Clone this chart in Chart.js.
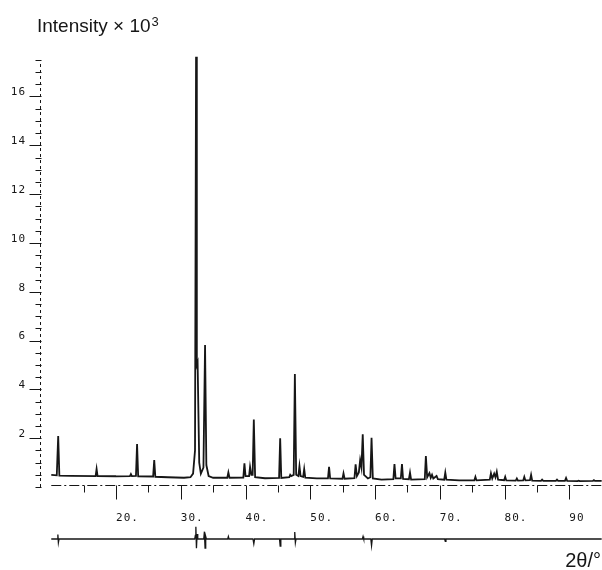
<!DOCTYPE html>
<html>
<head>
<meta charset="utf-8">
<script src="https://cdn.jsdelivr.net/npm/chart.js@4/dist/chart.umd.min.js"></script>
<style>
    body { margin: 0; background: #fff; }
    canvas { display: block; }
</style>
</head>
<body>
<canvas id="xrd-chart" width="602" height="570"></canvas>
<script>
// DADOS - perfil observado (2theta em graus, intensidade x 10^3)
const obsTheta = [
    10.0, 10.85, 11.07, 11.25, 13.0, 16.85, 17.0, 17.15, 20.0,
    22.15, 22.3, 22.45, 23.08, 23.25, 23.42, 25.73, 25.9, 26.07, 28.0, 30.5,
    31.5, 31.9, 32.2, 32.36, 32.48, 32.6, 32.85, 33.1, 33.5, 33.75, 33.95, 34.3, 35.0,
    37.18, 37.35, 37.52, 39.66, 39.83, 40.0, 40.55, 40.7, 40.9, 41.1, 41.28, 41.48, 43.0,
    45.18, 45.35, 45.52, 46.75, 46.9, 47.05, 47.44, 47.62, 47.82, 48.16, 48.33, 48.5, 48.9, 49.06, 49.23, 51.0,
    52.73, 52.9, 53.07, 54.97, 55.13, 55.3, 56.82, 57.0, 57.2, 57.5, 57.7, 57.9, 58.1, 58.3, 58.9, 59.28, 59.46, 59.66, 61.0,
    62.83, 63.0, 63.18, 63.98, 64.16, 64.33, 65.23, 65.4, 65.57, 67.68, 67.85, 68.05, 68.4, 68.6, 68.8, 69.0, 69.5, 69.7, 70.68, 70.85, 71.02, 73.0,
    75.33, 75.5, 75.67, 77.72, 77.9, 78.1, 78.4, 78.6, 78.8, 79.0, 79.93, 80.1, 80.27,
    81.73, 81.9, 82.07, 82.88, 83.05, 83.22, 83.93, 84.1, 84.27, 85.63, 85.8, 85.97, 87.93, 88.1, 88.27, 89.33, 89.5, 89.67, 91.28, 91.45, 91.62, 93.63, 93.8, 93.97, 95.0
];
const obsIntensity = [
    0.50, 0.48, 2.09, 0.47, 0.46, 0.45, 0.74, 0.45, 0.44,
    0.45, 0.53, 0.45, 0.46, 1.76, 0.44, 0.43, 1.10, 0.42, 0.40, 0.38,
    0.40, 0.55, 1.50, 17.63, 5.00, 5.10, 1.00, 0.55, 0.80, 5.82, 0.90, 0.45, 0.38,
    0.38, 0.60, 0.38, 0.39, 0.97, 0.45, 0.45, 0.83, 0.50, 0.50, 2.77, 0.40, 0.36,
    0.37, 2.00, 0.37, 0.40, 0.50, 0.45, 0.50, 4.63, 0.50, 0.45, 0.86, 0.45, 0.42, 0.74, 0.38, 0.35,
    0.35, 0.83, 0.35, 0.34, 0.56, 0.34, 0.36, 0.93, 0.45, 0.60, 1.10, 0.80, 2.16, 0.50, 0.35, 0.40, 2.02, 0.35, 0.30,
    0.32, 0.94, 0.35, 0.35, 0.94, 0.33, 0.32, 0.59, 0.30, 0.32, 1.27, 0.40, 0.57, 0.38, 0.50, 0.35, 0.45, 0.32, 0.30, 0.59, 0.30, 0.27,
    0.27, 0.42, 0.27, 0.30, 0.56, 0.35, 0.55, 0.40, 0.62, 0.30, 0.28, 0.42, 0.27,
    0.26, 0.35, 0.26, 0.27, 0.42, 0.27, 0.28, 0.50, 0.26, 0.25, 0.30, 0.25, 0.25, 0.30, 0.25, 0.25, 0.37, 0.25, 0.24, 0.26, 0.24, 0.25, 0.28, 0.25, 0.25
];

// curva de diferenca (obs - calc), mesma escala
const diffTheta = [
    10.0, 10.95, 11.02, 11.1, 11.2, 30.0,
    32.15, 32.25, 32.33, 32.42, 32.52, 32.62,
    33.55, 33.65, 33.75, 33.85, 33.95,
    37.25, 37.35, 37.45, 41.15, 41.28, 41.4, 45.25, 45.35, 45.45,
    47.5, 47.6, 47.7, 47.8, 58.05, 58.15, 58.25, 59.35, 59.46, 59.57,
    70.75, 70.85, 70.95, 95.0
];
const diffValues = [
    0.00, 0.00, 0.18, -0.15, 0.00, 0.00,
    0.00, 0.15, 0.50, -0.38, 0.20, 0.00,
    0.00, 0.30, -0.37, 0.10, 0.00,
    0.00, 0.10, 0.00, 0.00, -0.20, 0.00, 0.00, -0.29, 0.00,
    0.00, 0.29, -0.15, 0.00, 0.00, 0.10, 0.00, 0.00, -0.27, 0.00,
    0.00, -0.10, 0.00, 0.00
];

// eixos
const xTickValues = [20, 30, 40, 50, 60, 70, 80, 90];
const xTickLabels = ['20.', '30.', '40.', '50.', '60.', '70.', '80.', '90'];
const xMinorTicks = [15, 25, 35, 45, 55, 65, 75, 85];
const yTickValues = [2, 4, 6, 8, 10, 12, 14, 16];
const yTickLabels = ['2', '4', '6', '8', '10', '12', '14', '16'];
const yTickStep = 0.5;
const yTickTop = 17.5;

const ink = '#161616';
const plotterFont = '11px "DejaVu Sans Mono"';

function toPoints(xs, ys) {
    return xs.map((x, i) => ({ x: x, y: ys[i] }));
}

// desenha os eixos no estilo de plotter
const plotterAxes = {
    id: 'plotterAxes',
    afterDraw(chart) {
        const ctx = chart.ctx;
        const sx = chart.scales.x;
        const sy = chart.scales.y;
        ctx.save();
        ctx.strokeStyle = ink;
        ctx.fillStyle = ink;
        ctx.lineWidth = 1;

        // eixo y tracejado
        const ax = sx.left + 0.5;
        ctx.setLineDash([3, 3]);
        ctx.beginPath();
        ctx.moveTo(ax, sy.getPixelForValue(0));
        ctx.lineTo(ax, sy.getPixelForValue(yTickTop));
        ctx.stroke();
        ctx.setLineDash([]);

        for (let v = 0; v <= yTickTop + 0.001; v += yTickStep) {
            const py = Math.round(sy.getPixelForValue(v)) + 0.5;
            const major = yTickValues.includes(v);
            ctx.beginPath();
            ctx.moveTo(ax - (major ? 11 : 5), py);
            ctx.lineTo(ax + 1, py);
            ctx.stroke();
        }

        ctx.font = plotterFont;
        ctx.letterSpacing = '1px';
        ctx.textAlign = 'right';
        ctx.textBaseline = 'middle';
        yTickValues.forEach((v, i) => {
            ctx.fillText(yTickLabels[i], 26, sy.getPixelForValue(v) - 4);
        });

        // eixo x traco-ponto
        const ay = Math.round(sy.getPixelForValue(0.1)) + 0.5;
        ctx.setLineDash([10, 3, 2, 3]);
        ctx.beginPath();
        ctx.moveTo(sx.getPixelForValue(10), ay);
        ctx.lineTo(sx.right, ay);
        ctx.stroke();
        ctx.setLineDash([]);

        xMinorTicks.forEach(v => {
            const px = Math.round(sx.getPixelForValue(v)) + 0.5;
            ctx.beginPath();
            ctx.moveTo(px, ay);
            ctx.lineTo(px, ay + 7);
            ctx.stroke();
        });
        xTickValues.forEach(v => {
            const px = Math.round(sx.getPixelForValue(v)) + 0.5;
            ctx.beginPath();
            ctx.moveTo(px, ay);
            ctx.lineTo(px, ay + 14);
            ctx.stroke();
        });

        ctx.textAlign = 'left';
        xTickValues.forEach((v, i) => {
            ctx.fillText(xTickLabels[i], sx.getPixelForValue(v), 518);
        });

        // titulos
        ctx.letterSpacing = '0px';
        ctx.textBaseline = 'alphabetic';
        ctx.font = '19px "Liberation Sans"';
        ctx.fillText('Intensity \u00d7 10', 37, 32);
        const w = ctx.measureText('Intensity \u00d7 10').width;
        ctx.font = '13px "Liberation Sans"';
        ctx.fillText('3', 37 + w + 1, 26);

        ctx.font = '20px "Liberation Sans"';
        ctx.textAlign = 'right';
        ctx.fillText('2\u03b8/\u00b0', 601, 567);
        ctx.restore();
    }
};

function createChartXRD() {
    const ctx = document.getElementById('xrd-chart').getContext('2d');

    return new Chart(ctx, {
        type: 'scatter',
        data: {
            datasets: [{
                label: 'observado',
                data: toPoints(obsTheta, obsIntensity),
                showLine: true,
                borderColor: ink,
                borderWidth: 1.8,
                pointRadius: 0,
                tension: 0,
                yAxisID: 'y'
            }, {
                label: 'diferenca',
                data: toPoints(diffTheta, diffValues),
                showLine: true,
                borderColor: ink,
                borderWidth: 1.3,
                pointRadius: 0,
                tension: 0,
                yAxisID: 'yDiff'
            }]
        },
        options: {
            responsive: false,
            animation: false,
            layout: {
                padding: { left: 40, right: 0, top: 55, bottom: 0 }
            },
            plugins: {
                legend: { display: false },
                tooltip: { enabled: false }
            },
            scales: {
                x: { type: 'linear', display: false, min: 8.26, max: 95.05 },
                y: { type: 'linear', display: false, min: -3.40, max: 17.70 },
                yDiff: { type: 'linear', display: false, min: -1.27, max: 19.83 }
            }
        },
        plugins: [plotterAxes]
    });
}

document.addEventListener('DOMContentLoaded', function() {
    createChartXRD();
});
</script>
</body>
</html>
